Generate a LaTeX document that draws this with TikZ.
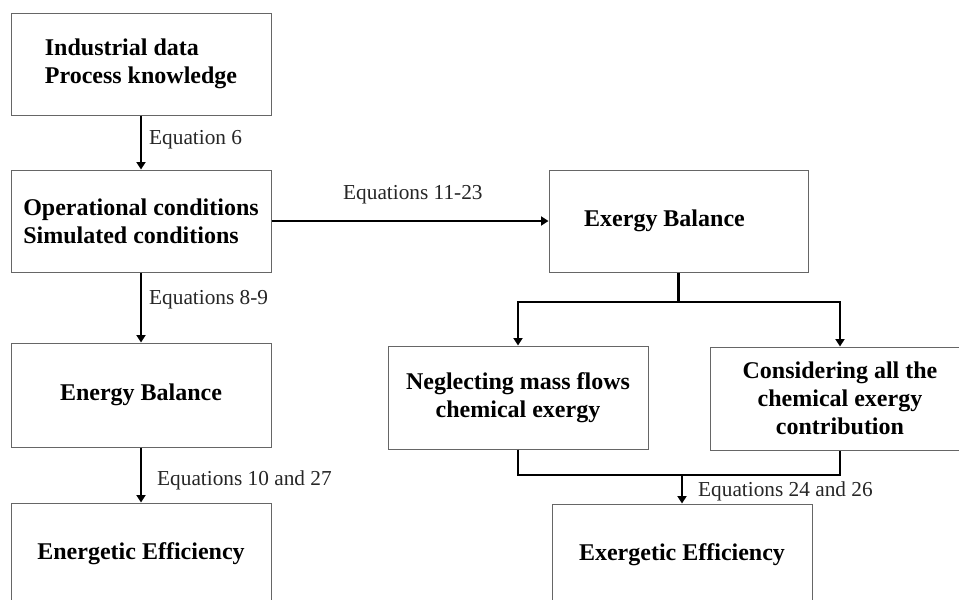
\documentclass[tikz,border=0pt]{standalone}
\usepackage{fontspec}
\setmainfont{Liberation Serif}
\usetikzlibrary{arrows.meta}
\begin{document}
\begin{tikzpicture}[x=1pt,y=-1pt,
  box/.style={draw=black!60, line width=1pt, fill=white, minimum width=260pt,
    inner sep=0pt, align=center, font=\fontsize{24}{28}\selectfont\bfseries},
  lbl/.style={anchor=west, inner sep=0pt, font=\fontsize{21.3}{25}\selectfont, text=black!85},
  conn/.style={line width=2.2pt, black},
  arr/.style={conn, -{Triangle[length=7.5pt,width=9pt]}}]
\useasboundingbox (0,0) rectangle (959,600);
\clip (0,0) rectangle (959,600);
\fill[white] (0,0) rectangle (959,600);
% boxes
\node[box, minimum height=102pt, align=left] (A) at (141,64) {Industrial data\\Process knowledge};
\node[box, minimum height=102pt, align=left] (B) at (141,221) {Operational conditions\\Simulated conditions};
\node[box, minimum height=104pt] (E) at (141,395) {Energy Balance};
\node[box, minimum height=102pt] (EE) at (141,554) {Energetic Efficiency};
\node[box, minimum height=102pt, minimum width=259pt] (X) at (678.5,221) {\hspace*{-28pt}Exergy Balance\raisebox{0pt}[0pt][6pt]{}};
\node[box, minimum height=103pt] (N) at (518,397.5) {Neglecting mass flows\\chemical exergy};
\node[box, minimum height=103pt] (C) at (840,398.5) {Considering all the\\chemical exergy\\contribution};
\node[box, minimum height=102pt] (XE) at (682,555) {Exergetic Efficiency};
% coordinates
\coordinate (split) at (678.5,302);
\coordinate (join) at (682,475);
% connectors
\draw[arr] (A.south) -- (B.north);
\draw[arr] (B.east) -- (X.west);
\draw[arr] (B.south) -- (E.north);
\draw[arr] (E.south) -- (EE.north);
\draw[conn] (X.south) -- (split);
\draw[arr] (split) -| (N.north);
\draw[arr] (split) -| (C.north);
\draw[conn] (N.south) |- (join) -| (C.south);
\draw[arr] (join) -- (XE.north);
% labels
\node[lbl] (l1) at (149,140) {Equation 6};
\node[lbl] (l2) at (343,195) {Equations 11-23};
\node[lbl] (l3) at (149,300) {Equations 8-9};
\node[lbl] (l4) at (157,480) {Equations 10 and 27};
\node[lbl] (l5) at (698,491) {Equations 24 and 26};
\end{tikzpicture}
\end{document}
